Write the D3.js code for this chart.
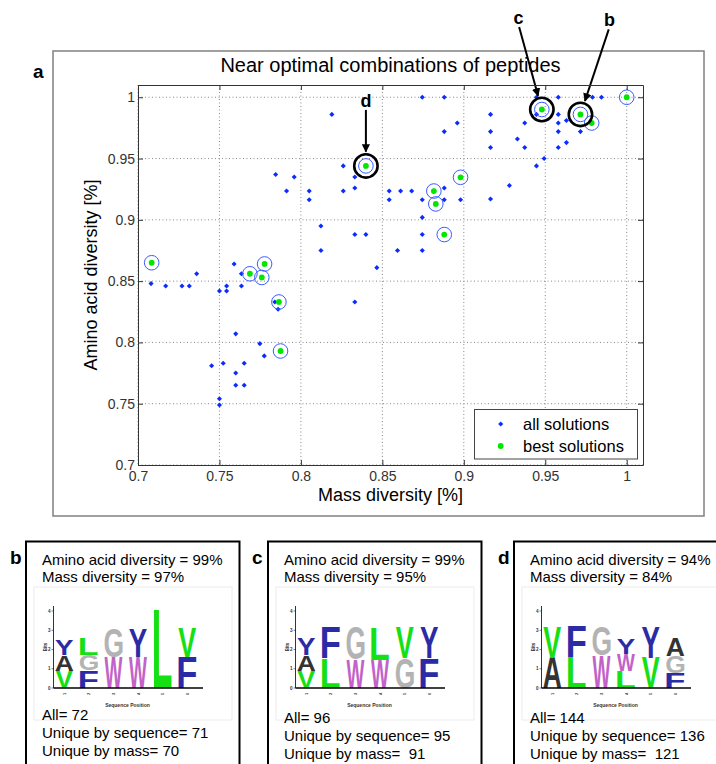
<!DOCTYPE html>
<html>
<head>
<meta charset="utf-8">
<script src="https://cdn.jsdelivr.net/npm/d3@7"></script>
<style>
body { margin: 0; background: #fff; }
svg { font-family: "Liberation Sans", Arial, Helvetica, sans-serif; }
text { white-space: pre; }
</style>
</head>
<body>
<div id="chart"></div>
<script>
///////////// data /////////////
// all solutions: mass diversity / amino acid diversity
var allMass = [0.7845, 0.708, 0.717, 0.727, 0.7315, 0.736, 0.750, 0.7544, 0.7544, 0.759,
  0.7635, 0.7635, 0.784, 0.786, 0.760, 0.7748, 0.7775, 0.7452, 0.7523, 0.760,
  0.7652, 0.760, 0.7652, 0.750, 0.750, 0.8745, 0.888, 0.819, 0.896, 0.888,
  0.826, 0.7959, 0.8331, 0.7912, 0.8051, 0.826, 0.8331, 0.8542, 0.8612, 0.868,
  0.888, 0.8051, 0.8542, 0.8745, 0.888, 0.898, 0.8745, 0.8123, 0.8331, 0.8399,
  0.8745, 0.8123, 0.8593, 0.8745, 0.8466, 0.8331, 0.9446, 0.958, 0.979, 0.9845,
  0.9446, 0.958, 0.9164, 0.963, 0.958, 0.9374, 0.9164, 0.958, 0.9716, 0.9329,
  0.9164, 0.9374, 0.963, 0.958, 0.9493, 0.9446, 0.928, 0.9164];
var allAmino = [0.937, 0.848, 0.846, 0.846, 0.846, 0.856, 0.842, 0.846, 0.842, 0.864,
  0.856, 0.846, 0.833, 0.827, 0.807, 0.799, 0.789, 0.781, 0.783, 0.775,
  0.783, 0.765, 0.765, 0.754, 0.749, 1.0, 1.0, 0.986, 0.979, 0.972,
  0.944, 0.935, 0.935, 0.9235, 0.9235, 0.9235, 0.926, 0.9235, 0.9235, 0.9235,
  0.926, 0.9164, 0.9164, 0.9164, 0.9164, 0.9164, 0.902, 0.895, 0.888, 0.888,
  0.888, 0.875, 0.875, 0.875, 0.861, 0.833, 1.0, 1.0, 1.0, 1.0,
  0.986, 0.986, 0.986, 0.981, 0.979, 0.979, 0.972, 0.972, 0.972, 0.966,
  0.959, 0.959, 0.963, 0.959, 0.950, 0.944, 0.928, 0.917];

// best solutions
var bestMass  = [0.7084, 0.7687, 0.776, 0.7777, 0.7865, 0.7875, 0.8399, 0.8816, 0.8828, 0.888, 0.898, 0.9479, 0.9716, 0.9785, 1.0];
var bestAmino = [0.865, 0.856, 0.853, 0.864, 0.833, 0.793, 0.944, 0.9235, 0.913, 0.888, 0.9347, 0.990, 0.986, 0.979, 1.0];

// picked combinations (panels b, c, d)
var pickedLabels = ['d', 'c', 'b'];
var pickedMass   = [0.8399, 0.9479, 0.9716];
var pickedAmino  = [0.944, 0.990, 0.986];

var xTicks = [0.7, 0.75, 0.8, 0.85, 0.9, 0.95, 1];
var xTickLabels = ['0.7', '0.75', '0.8', '0.85', '0.9', '0.95', '1'];
var yTicks = [0.7, 0.75, 0.8, 0.85, 0.9, 0.95, 1];
var yTickLabels = ['0.7', '0.75', '0.8', '0.85', '0.9', '0.95', '1'];

var legendLabels = ['all solutions', 'best solutions'];

// bottom panels
var panelLabels = ['b', 'c', 'd'];
var aminoDiversity = [99, 99, 94];
var massDiversity = [97, 95, 84];
var countAll = [72, 96, 144];
var countUniqueSeq = [71, 95, 136];
var countUniqueMass = ['70', ' 91', ' 121'];

// sequence logos: per position, stacks bottom -> top [letter, bits]
var logoB = [
  [['V', 0.90], ['A', 0.83], ['Y', 0.80]],
  [['F', 0.90], ['G', 0.83], ['L', 0.86]],
  [['W', 1.59], ['G', 1.47]],
  [['W', 1.59], ['Y', 1.47]],
  [['L', 4.03]],
  [['F', 1.59], ['V', 1.50]]
];
var logoC = [
  [['V', 0.89], ['A', 0.83], ['Y', 0.84]],
  [['L', 1.55], ['F', 1.60]],
  [['W', 1.46], ['G', 1.69]],
  [['W', 1.46], ['L', 1.69]],
  [['G', 1.55], ['V', 1.60]],
  [['F', 1.55], ['Y', 1.60]]
];
var logoD = [
  [['A', 1.58], ['V', 1.58]],
  [['L', 1.58], ['F', 1.58]],
  [['W', 1.67], ['G', 1.49]],
  [['L', 0.88], ['W', 0.88], ['Y', 0.82]],
  [['V', 1.58], ['Y', 1.58]],
  [['F', 0.79], ['G', 0.88], ['A', 0.91]]
];
var logos = [logoB, logoC, logoD];
var logoTicks = [0, 1, 2, 3, 4];
var positions = [1, 2, 3, 4, 5, 6];

var letterColor = {Y: '#2b2ba6', F: '#2b2ba6', A: '#333333', V: '#14e014', L: '#14e014', G: '#b3b3b3', W: '#c262c8'};

///////////// layout /////////////
const W = 716, H = 764;
const FONT = '"Liberation Sans", Arial, Helvetica, sans-serif';
var plot = {left: 138, right: 643, top: 85, bottom: 465};

var svg = d3.select('#chart').append('svg')
  .attr('width', W).attr('height', H);
svg.append('rect').attr('width', W).attr('height', H).attr('fill', '#fff');

// arrow head
svg.append('defs').append('marker')
  .attr('id', 'arrow').attr('viewBox', '0 0 10 10')
  .attr('refX', 9).attr('refY', 5)
  .attr('markerWidth', 4.2).attr('markerHeight', 4.2)
  .attr('markerUnits', 'strokeWidth')
  .attr('orient', 'auto')
  .append('path').attr('d', 'M0,0L10,5L0,10Z').attr('fill', '#000');

///////////// panel a /////////////
svg.append('rect').attr('x', 53).attr('y', 51).attr('width', 651).attr('height', 465)
  .attr('fill', 'none').attr('stroke', '#808080').attr('stroke-width', 1.5);
svg.append('text').attr('x', 33).attr('y', 78).attr('font-size', 19).attr('font-weight', 'bold').text('a');

var x = d3.scaleLinear().domain([0.7, 1.01]).range([plot.left, plot.right]);
var y = d3.scaleLinear().domain([0.7, 1.01]).range([plot.bottom, plot.top]);

// dotted grid
var grid = svg.append('g').attr('stroke', '#8a8a8a').attr('stroke-width', 1).attr('stroke-dasharray', '1,2.5');
grid.selectAll('.gx').data(xTicks).enter().append('line')
  .attr('x1', d => x(d)).attr('x2', d => x(d))
  .attr('y1', plot.top).attr('y2', plot.bottom);
grid.selectAll('.gy').data(yTicks).enter().append('line')
  .attr('y1', d => y(d)).attr('y2', d => y(d))
  .attr('x1', plot.left).attr('x2', plot.right);

// all solutions (blue diamonds)
var diamond = d3.symbol().type(d3.symbolSquare).size(13);
var allPts = d3.range(allMass.length).map(i => [allMass[i], allAmino[i]])
  .concat(d3.range(bestMass.length).map(i => [bestMass[i], bestAmino[i]]));
svg.append('g').selectAll('path').data(allPts).enter().append('path')
  .attr('d', diamond)
  .attr('transform', d => 'translate(' + x(d[0]) + ',' + y(d[1]) + ') rotate(45)')
  .attr('fill', '#0a2cff');

// best solutions: blue ring + green dot
var best = d3.range(bestMass.length).map(i => [bestMass[i], bestAmino[i]]);
svg.append('g').selectAll('circle').data(best).enter().append('circle')
  .attr('cx', d => x(d[0])).attr('cy', d => y(d[1])).attr('r', 7.3)
  .attr('fill', 'none').attr('stroke', '#3a5cff').attr('stroke-width', 1);
svg.append('g').selectAll('circle').data(best).enter().append('circle')
  .attr('cx', d => x(d[0])).attr('cy', d => y(d[1])).attr('r', 2.9)
  .attr('fill', '#00e800');

// highlighted picks: black ring, arrow, letter
var arrowFrom = {d: [0, -56], c: [-22.7, -82.6], b: [28.3, -85]};
var picks = pickedLabels.map((l, i) => ({label: l, mx: pickedMass[i], ay: pickedAmino[i]}));
var pg = svg.append('g');
picks.forEach(function(p) {
  var cx = x(p.mx), cy = y(p.ay), r = 11.7;
  pg.append('circle').attr('cx', cx).attr('cy', cy).attr('r', r)
    .attr('fill', 'none').attr('stroke', '#000').attr('stroke-width', 2.6);
  var off = arrowFrom[p.label];
  var sx = cx + off[0], sy = cy + off[1];
  var len = Math.sqrt(off[0] * off[0] + off[1] * off[1]);
  var ex = cx + off[0] / len * (r + 2.5), ey = cy + off[1] / len * (r + 2.5);
  pg.append('line').attr('x1', sx).attr('y1', sy).attr('x2', ex).attr('y2', ey)
    .attr('stroke', '#000').attr('stroke-width', 2).attr('marker-end', 'url(#arrow)');
  pg.append('text').attr('x', sx + off[0] * 0.03).attr('y', sy - 3)
    .attr('text-anchor', 'middle').attr('font-size', 18).attr('font-weight', 'bold').text(p.label);
});

// axes (ticks inward, box on)
function styleAxis(g) {
  g.selectAll('path').attr('stroke', '#333');
  g.selectAll('line').attr('stroke', '#333');
  g.selectAll('text').attr('fill', '#333').attr('font-size', 14).attr('font-family', FONT);
}
svg.append('g').attr('transform', 'translate(0,' + plot.bottom + ')')
  .call(d3.axisBottom(x).tickValues(xTicks).tickSize(-5).tickSizeOuter(0).tickPadding(6)
    .tickFormat((d, i) => xTickLabels[i]))
  .call(styleAxis);
svg.append('g').attr('transform', 'translate(0,' + plot.top + ')')
  .call(d3.axisTop(x).tickValues(xTicks).tickSize(-5).tickSizeOuter(0).tickFormat(''))
  .call(styleAxis);
svg.append('g').attr('transform', 'translate(' + plot.left + ',0)')
  .call(d3.axisLeft(y).tickValues(yTicks).tickSize(-5).tickSizeOuter(0).tickPadding(3)
    .tickFormat((d, i) => yTickLabels[i]))
  .call(styleAxis);
svg.append('g').attr('transform', 'translate(' + plot.right + ',0)')
  .call(d3.axisRight(y).tickValues(yTicks).tickSize(-5).tickSizeOuter(0).tickFormat(''))
  .call(styleAxis);

// titles
svg.append('text').attr('x', (plot.left + plot.right) / 2).attr('y', 72)
  .attr('text-anchor', 'middle').attr('font-size', 20).text('Near optimal combinations of peptides');
svg.append('text').attr('x', (plot.left + plot.right) / 2).attr('y', 501)
  .attr('text-anchor', 'middle').attr('font-size', 18).text('Mass diversity [%]');
svg.append('text').attr('transform', 'translate(97,' + (plot.top + plot.bottom) / 2 + ') rotate(-90)')
  .attr('text-anchor', 'middle').attr('font-size', 18).text('Amino acid diversity [%]');

// legend
var lg = svg.append('g');
lg.append('rect').attr('x', 474.5).attr('y', 409.5).attr('width', 163).attr('height', 49.5)
  .attr('fill', '#fff').attr('stroke', '#444').attr('stroke-width', 1);
lg.append('path').attr('d', diamond).attr('transform', 'translate(500.7,424) rotate(45)').attr('fill', '#0a2cff');
lg.append('circle').attr('cx', 500.7).attr('cy', 446).attr('r', 2.9).attr('fill', '#00e800');
lg.selectAll('text').data(legendLabels).enter().append('text')
  .attr('x', 523).attr('y', (d, i) => 429.5 + i * 22.3)
  .attr('font-size', 16.5).text(d => d);

///////////// panels b, c, d /////////////
var ctx = document.createElement('canvas').getContext('2d');
ctx.font = 'bold 100px ' + FONT;
function glyphBox(ch) {
  var m = ctx.measureText(ch);
  return {l: m.actualBoundingBoxLeft, r: m.actualBoundingBoxRight,
          a: m.actualBoundingBoxAscent, d: m.actualBoundingBoxDescent};
}

var boxLeft = [26, 268, 514];
var lowerShift = [0, 3, 3];

function drawLogo(g, cols, ax) {
  var by = d3.scaleLinear().domain([0, 4]).range([688, 611]);
  var cx = d3.scaleLinear().domain([1, 6]).range([ax + 10.8, ax + 10.8 + 24.6 * 5]);
  cols.forEach(function(stack, ci) {
    var base = 0;
    stack.forEach(function(s) {
      var yb = by(base), yt = by(base + s[1]);
      var bb = glyphBox(s[0]);
      var sx = 18 / (bb.l + bb.r), sy = (yb - yt) / (bb.a + bb.d);
      g.append('text').text(s[0])
        .attr('font-size', 100).attr('font-weight', 'bold').attr('font-family', FONT)
        .attr('fill', letterColor[s[0]])
        .attr('transform', 'translate(' + cx(ci + 1) + ',' + yb + ') scale(' + sx + ',' + sy + ') translate(' + (-(bb.r - bb.l) / 2) + ',' + (-bb.d) + ')');
      base += s[1];
    });
  });
  // axes of the logo
  g.append('line').attr('x1', ax).attr('x2', ax).attr('y1', 606).attr('y2', 688)
    .attr('stroke', '#000').attr('stroke-width', 0.8);
  g.append('line').attr('x1', ax).attr('x2', ax + 149.5).attr('y1', 688).attr('y2', 688)
    .attr('stroke', '#000').attr('stroke-width', 1.4);
  g.selectAll('.lt').data(logoTicks).enter().append('text')
    .attr('x', ax - 3).attr('y', d => by(d) + 1.5).attr('text-anchor', 'end')
    .attr('font-size', 4.5).attr('font-weight', 'bold').attr('fill', '#333').text(d => d);
  g.selectAll('.ltk').data(logoTicks).enter().append('line')
    .attr('x1', ax - 2).attr('x2', ax).attr('y1', d => by(d)).attr('y2', d => by(d))
    .attr('stroke', '#000').attr('stroke-width', 0.5);
  g.selectAll('.pt').data(positions).enter().append('text')
    .attr('transform', d => 'translate(' + (cx(d) + 1.5) + ',694) rotate(-90)')
    .attr('text-anchor', 'middle').attr('font-size', 4).attr('font-weight', 'bold').attr('fill', '#333').text(d => d);
  g.append('text').attr('transform', 'translate(' + (ax - 7) + ',647) rotate(-90)')
    .attr('text-anchor', 'middle').attr('font-size', 4.5).attr('font-weight', 'bold').attr('fill', '#333').text('Bits');
  g.append('text').attr('x', ax + 74).attr('y', 707)
    .attr('text-anchor', 'middle').attr('font-size', 5).attr('font-weight', 'bold').attr('fill', '#333').text('Sequence Position');
}

panelLabels.forEach(function(lab, i) {
  var bx = boxLeft[i];
  var g = svg.append('g');
  g.append('rect').attr('x', bx).attr('y', 541.5).attr('width', 213.5).attr('height', 240)
    .attr('fill', '#fff').attr('stroke', '#000').attr('stroke-width', 2);
  g.append('text').attr('x', bx - 16).attr('y', 564).attr('font-size', 19).attr('font-weight', 'bold').text(lab);
  // logo image frame
  g.append('rect').attr('x', bx + 8).attr('y', 587).attr('width', 198).attr('height', 133)
    .attr('fill', '#fff').attr('stroke', '#ececec').attr('stroke-width', 1);
  drawLogo(g, logos[i], bx + 27.5);
  var tx = bx + 16;
  g.append('text').attr('x', tx).attr('y', 564.5).attr('font-size', 15).text('Amino acid diversity = ' + aminoDiversity[i] + '%');
  g.append('text').attr('x', tx).attr('y', 581.5).attr('font-size', 15).text('Mass diversity = ' + massDiversity[i] + '%');
  g.append('text').attr('x', tx).attr('y', 719.5 + lowerShift[i]).attr('font-size', 15).text('All= ' + countAll[i]);
  g.append('text').attr('x', tx).attr('y', 737.5 + lowerShift[i]).attr('font-size', 15).text('Unique by sequence= ' + countUniqueSeq[i]);
  g.append('text').attr('x', tx).attr('y', 755.5 + lowerShift[i]).attr('font-size', 15).text('Unique by mass= ' + countUniqueMass[i]);
});
</script>
</body>
</html>
